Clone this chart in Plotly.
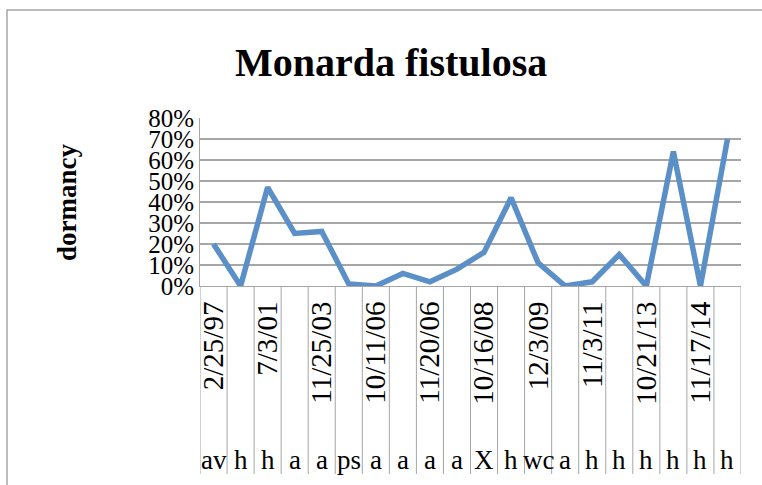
import plotly.graph_objects as go

# Dormancy fraction per census (20 censuses, in order)
dormancy = [0.20, 0.00, 0.47, 0.25, 0.26, 0.01, 0.00, 0.06, 0.02, 0.08,
            0.16, 0.42, 0.11, 0.00, 0.02, 0.15, 0.00, 0.64, 0.00, 0.70]

# Site/treatment code for each census (outer category level)
codes = ["av", "h", "h", "a", "a", "ps", "a", "a", "a", "a",
         "X", "h", "wc", "a", "h", "h", "h", "h", "h", "h"]

# Census dates labelled on the axis (every other census)
date_labels = ["2/25/97", "7/3/01", "11/25/03", "10/11/06", "11/20/06",
               "10/16/08", "12/3/09", "11/3/11", "10/21/13", "11/17/14"]

y_ticks = [0, 0.1, 0.2, 0.3, 0.4, 0.5, 0.6, 0.7, 0.8]

W, H = 762, 485
L, R, T, B = 200, 21, 118, 199
plot_w = W - L - R
plot_h = H - T - B

def px_to_paper_y(py):
    return (H - B - py) / plot_h

def px_to_paper_x(px):
    return (px - L) / plot_w

n = len(dormancy)
xs = list(range(n))
serif = "Liberation Serif"
grid = "#A6A6A6"

fig = go.Figure()
fig.add_trace(go.Scatter(
    x=xs, y=dormancy, mode="lines",
    line=dict(color="#5B8FC8", width=5.5),
    hoverinfo="skip", showlegend=False,
))

shapes = []
# Category dividers below the axis spanning both label levels
for i in range(n + 1):
    shapes.append(dict(type="line", xref="x", yref="paper",
                       x0=i - 0.5, x1=i - 0.5,
                       y0=px_to_paper_y(474), y1=0,
                       line=dict(color=grid, width=1)))
# Outer chart frame
shapes.append(dict(type="rect", xref="paper", yref="paper",
                   x0=px_to_paper_x(7), x1=px_to_paper_x(790),
                   y0=px_to_paper_y(520), y1=px_to_paper_y(10),
                   line=dict(color="#A6A6A6", width=1.5),
                   fillcolor="rgba(0,0,0,0)", layer="below"))

annotations = []
for i, c in enumerate(codes):
    annotations.append(dict(x=i, y=px_to_paper_y(460), xref="x", yref="paper",
                            text=c, showarrow=False,
                            xanchor="center", yanchor="middle",
                            font=dict(family=serif, size=27, color="black")))

annotations.append(dict(x=px_to_paper_x(391), y=px_to_paper_y(62),
                        xref="paper", yref="paper",
                        text="<b>Monarda fistulosa</b>", showarrow=False,
                        xanchor="center", yanchor="middle",
                        font=dict(family=serif, size=40, color="black")))
annotations.append(dict(x=px_to_paper_x(67), y=px_to_paper_y(203),
                        xref="paper", yref="paper",
                        text="<b>dormancy</b>", showarrow=False, textangle=-90,
                        xanchor="center", yanchor="middle",
                        font=dict(family=serif, size=27, color="black")))

fig.update_layout(
    width=W, height=H,
    margin=dict(l=L, r=R, t=T, b=B),
    paper_bgcolor="white", plot_bgcolor="white",
    shapes=shapes, annotations=annotations,
    xaxis=dict(
        range=[-0.5, n - 0.5],
        tickvals=xs[0::2], ticktext=date_labels,
        tickangle=-90, ticks="",
        ticklabelstandoff=3,
        tickfont=dict(family=serif, size=29, color="black"),
        showgrid=False, zeroline=False,
        showline=True, linecolor=grid, linewidth=1,
        fixedrange=True,
    ),
    yaxis=dict(
        range=[0, 0.8],
        tickvals=y_ticks, tickformat=".0%",
        tickfont=dict(family=serif, size=25, color="black"),
        showgrid=True, gridcolor=grid, gridwidth=1.5,
        zeroline=False, showline=True, linecolor=grid, linewidth=1,
        ticks="", ticklabelstandoff=0,
        fixedrange=True,
    ),
)

fig.write_html("out.html")
